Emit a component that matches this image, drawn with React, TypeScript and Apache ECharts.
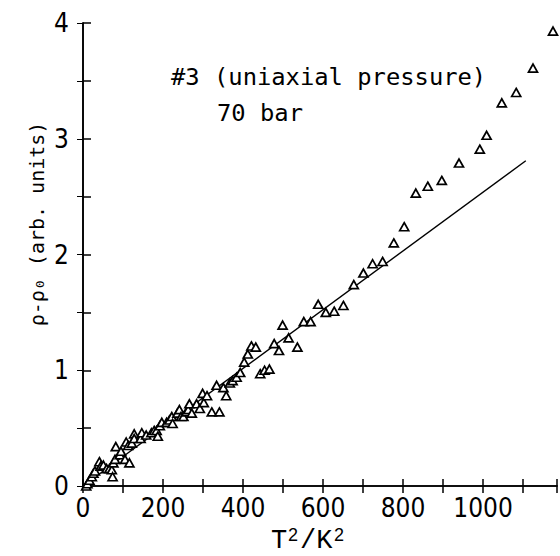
import React, { useEffect, useRef } from "react";
import * as echarts from "echarts";

// T^2 (K^2) values of the measured points
const pointsX = [
  8, 11, 16, 22, 26, 30, 41, 44, 51, 59, 66, 72, 74, 76, 80, 82, 92, 95, 105, 108,
  113, 116, 122, 128, 128, 144, 147, 158, 171, 178, 184, 187, 192, 197, 209, 216, 222, 224, 236, 241,
  245, 251, 258, 263, 266, 272, 284, 292, 299, 302, 310, 322, 334, 341, 351, 358, 367, 374, 384, 393,
  403, 412, 421, 432, 443, 454, 466, 478, 490, 499, 514, 536, 552, 569, 588, 607, 628, 651, 677, 701,
  724, 749, 777, 803, 832, 862, 897, 940, 992, 1009, 1047, 1083, 1125, 1175,
];
// rho - rho0 (arb. units) of the measured points
const pointsY = [
  0.0, 0.02, 0.05, 0.08, 0.11, 0.13, 0.21, 0.17, 0.18, 0.15, 0.15, 0.14, 0.08, 0.2, 0.23, 0.34, 0.27, 0.3, 0.23, 0.38,
  0.35, 0.2, 0.37, 0.45, 0.41, 0.41, 0.46, 0.44, 0.46, 0.48, 0.48, 0.43, 0.52, 0.55, 0.55, 0.57, 0.6, 0.54, 0.63, 0.66,
  0.6, 0.6, 0.64, 0.66, 0.71, 0.63, 0.71, 0.67, 0.8, 0.72, 0.78, 0.64, 0.87, 0.64, 0.85, 0.78, 0.89, 0.91, 0.94, 0.98,
  1.07, 1.14, 1.21, 1.2, 0.97, 1.0, 1.01, 1.23, 1.17, 1.39, 1.28, 1.2, 1.42, 1.42, 1.57, 1.5, 1.51, 1.56, 1.74, 1.84,
  1.92, 1.94, 2.1, 2.24, 2.53, 2.59, 2.64, 2.79, 2.91, 3.03, 3.31, 3.4, 3.61, 3.93,
];

// straight-line fit (rho - rho0 proportional to T^2)
const fitX = [0, 1107];
const fitY = [0, 2.81];

const xTickLabels = [0, 200, 400, 600, 800, 1000];
const yTickLabels = [0, 1, 2, 3, 4];

const annotation1 = "#3 (uniaxial pressure)";
const annotation2 = "70 bar";
const yTitle = "ρ-ρ₀ (arb. units)";

const NUM_FONT = "'Liberation Sans Narrow', 'DejaVu Sans Condensed', 'Liberation Sans', sans-serif";
const MONO_FONT = "'DejaVu Sans Mono', 'Liberation Mono', monospace";
const SERIF_MONO = "'Liberation Mono', 'Courier New', monospace";

export default function App() {
  const ref = useRef<HTMLDivElement>(null);

  useEffect(() => {
    if (!ref.current) return;
    const chart = echarts.init(ref.current, null, { renderer: "svg" });

    const black = "#000";
    const axisLine = { show: true, lineStyle: { color: black, width: 1.6 } };

    const option: any = {
      animation: false,
      backgroundColor: "#fff",
      grid: { left: 83, right: 3, top: 23, bottom: 70 },
      xAxis: [
        {
          type: "value",
          min: 0,
          max: 1185,
          interval: 100,
          axisLine,
          axisTick: { show: true, inside: true, length: 7, lineStyle: { color: black, width: 1.5 } },
          axisLabel: {
            formatter: (v: number) => (xTickLabels.includes(v) ? String(v) : ""),
            fontSize: 26,
            fontFamily: NUM_FONT,
            color: black,
            margin: 9,
          },
          splitLine: { show: false },
        },
        {
          type: "value",
          position: "top",
          min: 0,
          max: 1185,
          interval: 100,
          axisLine,
          axisTick: { show: true, inside: true, length: 7, lineStyle: { color: black, width: 1.5 } },
          axisLabel: { show: false },
          splitLine: { show: false },
        },
      ],
      yAxis: [
        {
          type: "value",
          min: 0,
          max: 4,
          interval: 0.5,
          axisLine,
          axisTick: { show: true, inside: true, length: 8, lineStyle: { color: black, width: 1.5 } },
          axisLabel: {
            formatter: (v: number) => (yTickLabels.includes(v) ? String(v) : ""),
            fontSize: 26,
            fontFamily: NUM_FONT,
            color: black,
            margin: 14,
          },
          splitLine: { show: false },
        },
        {
          type: "value",
          position: "right",
          min: 0,
          max: 4,
          interval: 0.5,
          axisLine,
          axisTick: { show: true, inside: true, length: 6, lineStyle: { color: black, width: 1 } },
          axisLabel: { show: false },
          splitLine: { show: false },
        },
      ],
      graphic: [
        {
          type: "text",
          x: 37,
          y: 224,
          rotation: Math.PI / 2,
          style: {
            text: yTitle,
            fontFamily: MONO_FONT,
            fontSize: 20,
            fill: black,
            align: "center",
            verticalAlign: "middle",
          },
        },
        {
          type: "text",
          x: 171,
          y: 77,
          style: {
            text: annotation1,
            fontFamily: MONO_FONT,
            fontSize: 23.8,
            fill: black,
            verticalAlign: "middle",
          },
        },
        {
          type: "text",
          x: 217,
          y: 113,
          style: {
            text: annotation2,
            fontFamily: MONO_FONT,
            fontSize: 23.8,
            fill: black,
            verticalAlign: "middle",
          },
        },
        {
          type: "text",
          x: 271,
          y: 541,
          style: { text: "T", fontFamily: SERIF_MONO, fontSize: 27, fill: black, verticalAlign: "middle" },
        },
        {
          type: "text",
          x: 288,
          y: 535,
          style: { text: "2", fontFamily: "'Liberation Sans', sans-serif", fontSize: 18, fill: black, verticalAlign: "middle" },
        },
        {
          type: "text",
          x: 300,
          y: 541,
          style: { text: "/K", fontFamily: SERIF_MONO, fontSize: 27, fill: black, verticalAlign: "middle" },
        },
        {
          type: "text",
          x: 334,
          y: 535,
          style: { text: "2", fontFamily: "'Liberation Sans', sans-serif", fontSize: 18, fill: black, verticalAlign: "middle" },
        },
      ],
      series: [
        {
          type: "line",
          xAxisIndex: 0,
          yAxisIndex: 0,
          data: fitX.map((x, i) => [x, fitY[i]]),
          symbol: "none",
          lineStyle: { color: black, width: 1.4 },
          z: 1,
        },
        {
          type: "scatter",
          xAxisIndex: 0,
          yAxisIndex: 0,
          data: pointsX.map((x, i) => [x, pointsY[i]]),
          symbol: "triangle",
          symbolSize: [9, 8],
          itemStyle: { color: "#fff", borderColor: black, borderWidth: 1.7, opacity: 1 },
          z: 3,
        },
      ],
    };

    chart.setOption(option);
    return () => chart.dispose();
  }, []);

  return (
    <div
      ref={ref}
      style={{ position: "absolute", left: 0, top: 0, width: 560, height: 556, background: "#fff" }}
    />
  );
}
